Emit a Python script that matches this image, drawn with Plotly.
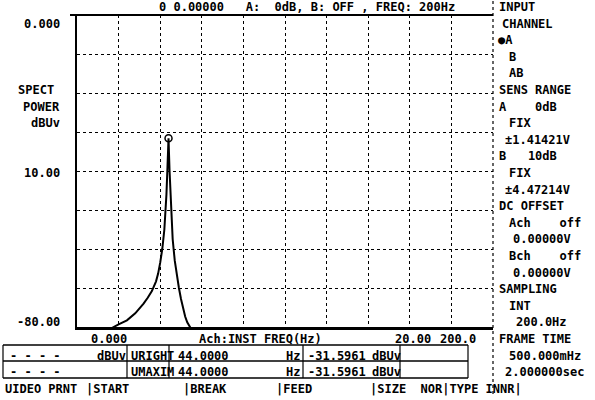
import plotly.graph_objects as go

# ---- data ----
freq_hz = [12, 16, 20, 24, 28, 30, 32, 34, 36, 38, 39, 40, 41, 42, 42.5, 43, 43.5, 44,
           44.5, 45, 45.5, 46, 47, 48, 49, 50, 51, 52, 53, 54, 55, 58]
power_dbuv = [-82, -80.5, -79.3, -78.3, -76.5, -75.3, -74, -72.5, -70.8, -68.3, -66.3, -63.5,
              -60, -55, -51, -46, -39, -31.5961,
              -40, -47.5, -53, -57.5, -63, -67, -70, -72.8, -75.2, -77.3, -78.8, -79.8, -80.6, -82]
peak_freq = [44.0]
peak_power = [-31.5961]

x_range = [0, 200]
y_range = [-80, 0]
x_div = 20
y_div = 10

W, H = 595, 400
FONT = "DejaVu Sans Mono"
FS = 12

# plot box in pixels
PX0, PX1, PY0, PY1 = 77, 493, 15, 327


def px(x):
    return x / W


def py(y):
    return 1 - y / H


def row(i):
    return 7 + 16.6 * i


fig = go.Figure()
fig.add_trace(go.Scatter(x=freq_hz, y=power_dbuv, mode="lines",
                         line=dict(color="black", width=2), hoverinfo="skip"))
fig.add_trace(go.Scatter(x=peak_freq, y=peak_power, mode="markers",
                         marker=dict(symbol="circle-open", size=7, color="black",
                                     line=dict(width=1.5)), hoverinfo="skip"))

fig.update_layout(
    width=W, height=H, margin=dict(l=0, r=0, t=0, b=0),
    paper_bgcolor="white", plot_bgcolor="white", showlegend=False,
    xaxis=dict(domain=[px(PX0), px(PX1)], range=x_range, dtick=x_div, tick0=0,
               showgrid=True, gridcolor="black", griddash="dot", gridwidth=1,
               showticklabels=False, ticks="", zeroline=False,
               showline=True, linecolor="black", linewidth=2.5, mirror=False),
    yaxis=dict(domain=[py(PY1), py(PY0)], range=y_range, dtick=y_div, tick0=0,
               showgrid=True, gridcolor="black", griddash="dot", gridwidth=1,
               showticklabels=False, ticks="", zeroline=False,
               showline=True, linecolor="black", linewidth=2, mirror=False),
)

shapes = []
# header underline / top border
shapes.append(dict(type="line", xref="paper", yref="paper", x0=px(70), x1=px(PX1),
                   y0=py(PY0), y1=py(PY0), line=dict(color="black", width=2)))
# right dotted separator
shapes.append(dict(type="line", xref="paper", yref="paper", x0=px(PX1), x1=px(PX1),
                   y0=py(1), y1=py(395), line=dict(color="black", width=1.2, dash="dot")))
# table
TY = [345, 361, 378]
for y in TY:
    shapes.append(dict(type="line", xref="paper", yref="paper", x0=px(3), x1=px(468),
                       y0=py(y), y1=py(y), line=dict(color="black", width=1.5)))
for x in [3, 127, 169, 303, 400, 468]:
    shapes.append(dict(type="line", xref="paper", yref="paper", x0=px(x), x1=px(x),
                       y0=py(TY[0]), y1=py(TY[2]), line=dict(color="black", width=1.2)))
fig.update_layout(shapes=shapes)

ann = []


def t(x, r, s, anchor="left"):
    ann.append(dict(x=px(x), y=py(row(r)), xref="paper", yref="paper", text="<b>" + s + "</b>",
                    showarrow=False, xanchor=anchor, yanchor="middle",
                    font=dict(family=FONT, size=FS, color="black")))


NB = "\u00a0"

# header
t(157, 0, "0 0.00000" + NB * 3 + "A:" + NB * 2 + "0dB," + NB + "B:" + NB + "OFF" + NB + "," + NB + "FREQ:" + NB + "200Hz")

# left axis labels
t(62, 1, "0.000", "right")
t(56, 5, "SPECT", "right")
t(62, 6, "POWER", "right")
t(62, 7, "dBUv", "right")
t(62, 10, "10.00", "right")
t(62, 19, "-80.00", "right")

# x label row
t(89, 20, "0.000")
t(197, 20, "Ach:INST")
t(262, 20, "FREQ(Hz)")
t(393, 20, "20.00")
t(438, 20, "200.0")

# right panel
panel = [
    (497, 0, "INPUT"), (500, 1, "CHANNEL"), (496, 2, "\u25cfA"), (507, 3, "B"),
    (507, 4, "AB"), (497, 5, "SENS RANGE"), (497, 6, "A" + NB * 4 + "0dB"),
    (507, 7, "FIX"), (503, 8, "\u00b11.41421V"), (497, 9, "B" + NB * 3 + "10dB"),
    (507, 10, "FIX"), (503, 11, "\u00b14.47214V"), (497, 12, "DC OFFSET"),
    (507, 13, "Ach" + NB * 4 + "off"), (511, 14, "0.00000V"),
    (507, 15, "Bch" + NB * 4 + "off"), (511, 16, "0.00000V"),
    (497, 17, "SAMPLING"), (507, 18, "INT"), (514, 19, "200.0Hz"),
    (497, 20, "FRAME TIME"), (507, 21, "500.000mHz"), (503, 22, "2.000000sec"),
]
for x, r, s in panel:
    t(x, r, s)

# table rows
for r, name in [(21, "RIGHT"), (22, "MAXIM")]:
    t(8, r, "-" + NB + "-" + NB + "-" + NB + "-")
    t(129, r, "U" + name)
    t(176, r, "44.0000")
    t(284, r, "Hz")
    t(306, r, "-31.5961")
    t(370, r, "dBUv")
t(95, 21, "dBUv")

# bottom soft keys
t(3, 23, "UIDEO" + NB + "PRNT")
t(84, 23, "|START")
t(181, 23, "|BREAK")
t(274, 23, "|FEED")
t(368, 23, "|SIZE" + NB * 2 + "NOR|TYPE" + NB + "INNR|")

fig.update_layout(annotations=ann)
fig.write_html("out.html")
